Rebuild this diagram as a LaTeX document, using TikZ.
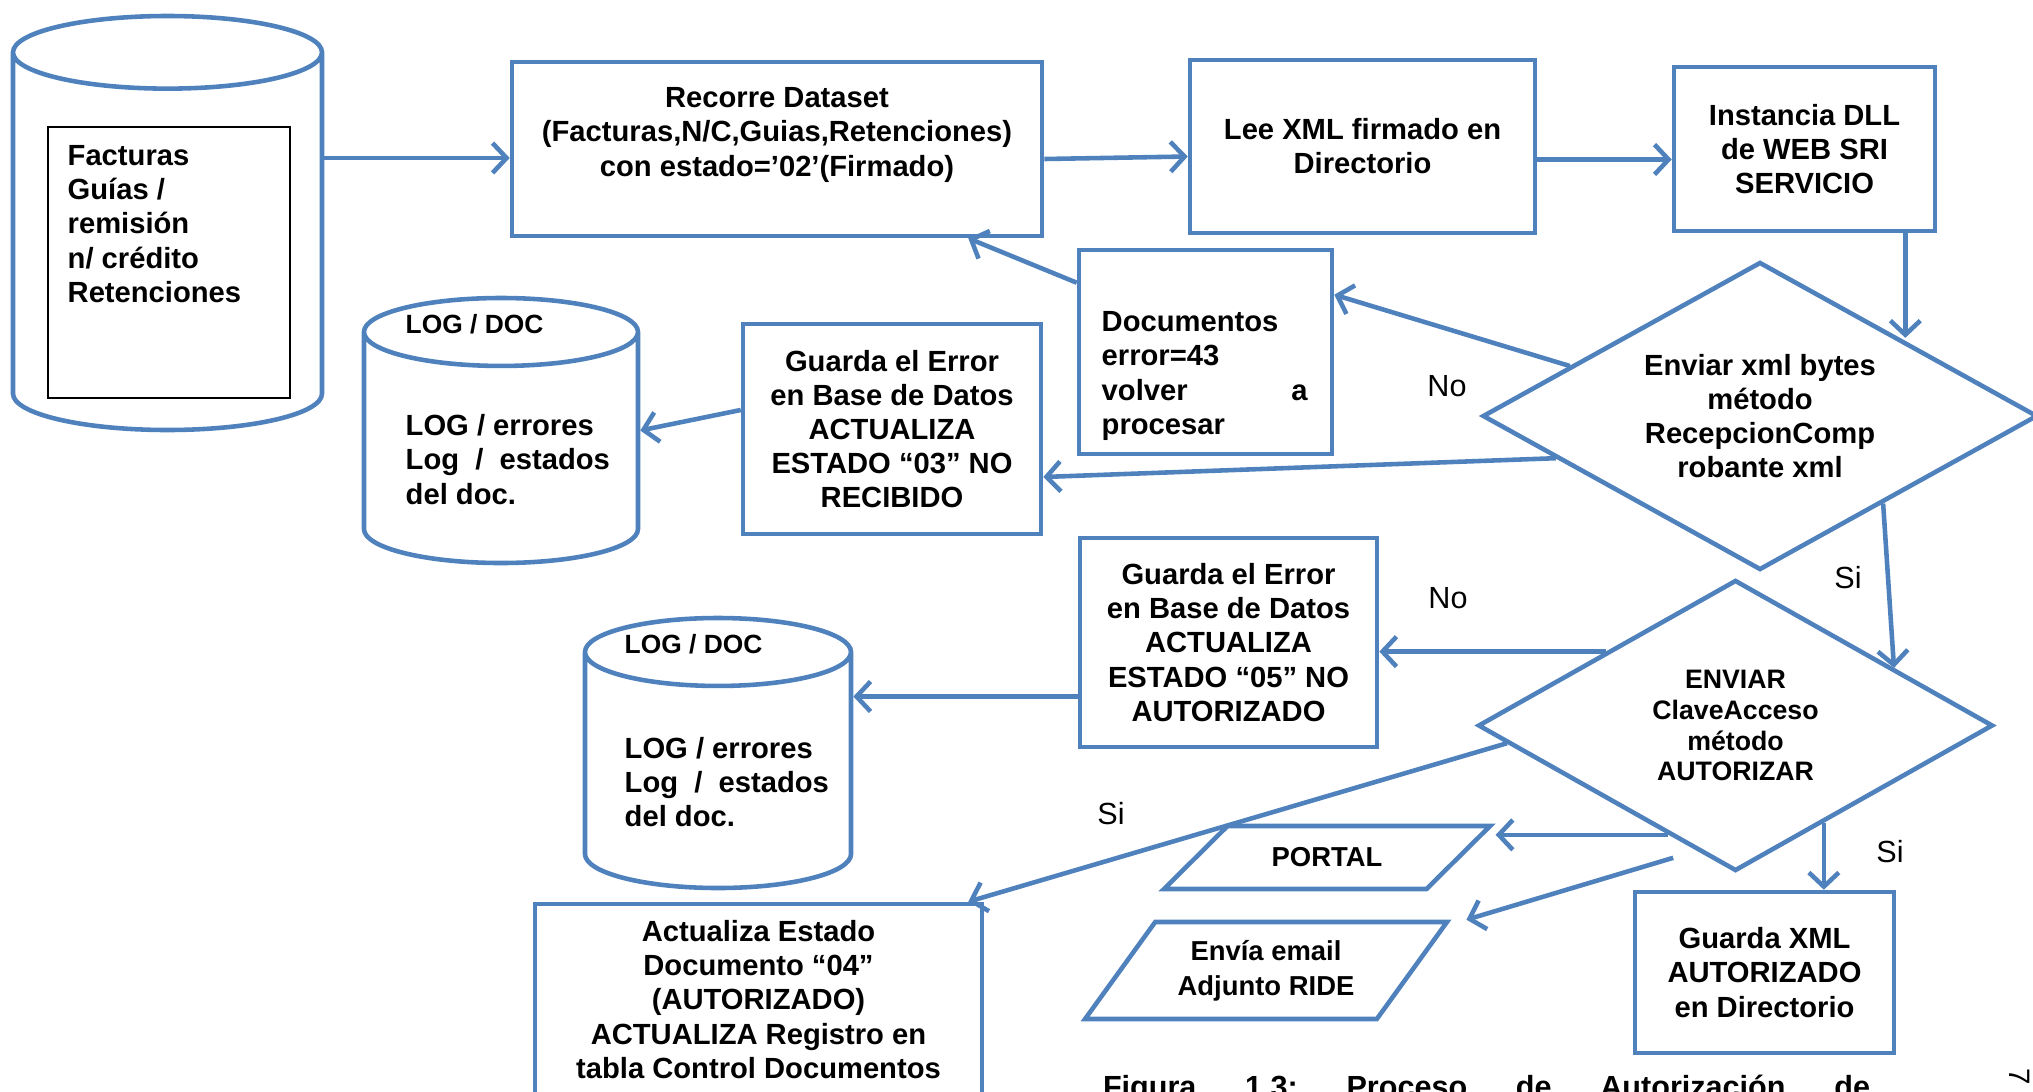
\documentclass[tikz,border=0pt]{standalone}
\usepackage{fontspec}
\setmainfont{Liberation Sans}
\usetikzlibrary{arrows.meta,positioning,shapes.geometric,calc}
\definecolor{azul}{RGB}{79,129,189}
\tikzset{
    %Define standard arrow tip
    >={Straight Barb[length=4pt,width=8.5pt]},
    %Define style for boxes
    caja/.style={
           rectangle,
           draw=azul, line width=1.3pt,
           align=center,
           font=\bfseries\fontsize{8.3}{9.7}\selectfont},
    rombo/.style={
           diamond,
           aspect=1.8,
           inner sep=0pt,
           draw=azul, line width=1.3pt,
           align=center,
           font=\bfseries\fontsize{8.3}{9.7}\selectfont},
    datos/.style={
           cylinder,
           shape border rotate=90,
           anchor=shape center,
           draw=azul, line width=1.3pt},
    entrada/.style={
           trapezium,
           trapezium stretches,
           draw=azul, line width=1.3pt,
           align=center,
           font=\bfseries\fontsize{7.8}{9.9}\selectfont},
    texto/.style={
           anchor=west,
           inner sep=0pt,
           align=left,
           font=\bfseries\fontsize{8.3}{9.7}\selectfont},
    % Define arrow style
    flecha/.style={
           ->,
           draw=azul, line width=1.3pt},
    etiqueta/.style={
           font=\fontsize{8.7}{10}\selectfont}
}
\begin{document}
\begin{tikzpicture}[node distance=1cm]
\useasboundingbox (0,0) rectangle (20.33,-10.91);
%base de documentos
\node[datos, minimum width=3.09cm, minimum height=4.14cm, aspect=3.1] (db) at (1.675,-2.23) {};
\node[draw, line width=0.4pt, minimum width=2.42cm, minimum height=2.71cm] (facbox) at (1.69,-2.625) {};
\node[texto, anchor=north west] (factxt) at (0.67,-1.45) {Facturas\\Guías /\\remisión\\n/ crédito\\Retenciones};
%fila de arriba
\node[caja, minimum width=5.30cm, minimum height=1.74cm] (rec) at (7.77,-1.49) {Recorre Dataset\\(Facturas,N/C,Guias,Retenciones)\\con estado=’02’(Firmado)\\\mbox{}};
\node[caja, minimum width=3.45cm, minimum height=1.73cm] (lee) at (13.625,-1.465) {Lee XML firmado en\\Directorio};
\node[caja, minimum width=2.61cm, minimum height=1.64cm] (inst) at (18.045,-1.49) {Instancia DLL\\de WEB SRI\\SERVICIO};
%primera decision
\node[rombo, minimum width=5.55cm, minimum height=3.08cm] (d1) at (17.6,-4.16) {Enviar xml bytes\\método\\RecepcionComp\\robante xml};
\node[caja, minimum width=2.53cm, minimum height=2.04cm] (doc) at (12.055,-3.52) {};
\node[texto, text width=2.06cm] (doct) at (11.01,-3.76) {Documentos\\error=43\\volver\hfill a\\procesar};
\node[caja, minimum width=2.98cm, minimum height=2.10cm] (g03) at (8.92,-4.29) {Guarda el Error\\en Base de Datos\\ACTUALIZA\\ESTADO “03” NO\\RECIBIDO};
\node[datos, minimum width=2.74cm, minimum height=2.65cm, aspect=2.9] (log1) at (5.01,-4.305) {};
\node[texto, font=\bfseries\fontsize{7.5}{9}\selectfont] (log1t) at (4.05,-3.24) {LOG / DOC};
\node[texto, below=1.355cm of log1t.west, anchor=west] (log1b) {LOG / errores\\Log~~/~~estados\\del doc.};
%segunda decision
\node[rombo, minimum width=5.15cm, minimum height=2.91cm, font=\bfseries\fontsize{7.6}{8.8}\selectfont] (d2) at (17.355,-7.255) {ENVIAR\\ClaveAcceso\\método\\AUTORIZAR};
\node[caja, minimum width=2.97cm, minimum height=2.09cm] (g05) at (12.285,-6.425) {Guarda el Error\\en Base de Datos\\ACTUALIZA\\ESTADO “05” NO\\AUTORIZADO};
\node[datos, minimum width=2.66cm, minimum height=2.70cm, aspect=2.9] (log2) at (7.18,-7.53) {};
\node[texto, font=\bfseries\fontsize{7.5}{9}\selectfont] (log2t) at (6.24,-6.44) {LOG / DOC};
\node[texto, below=1.38cm of log2t.west, anchor=west] (log2b) {LOG / errores\\Log~~/~~estados\\del doc.};
%salidas
\node[caja, minimum width=4.47cm, minimum height=1.91cm] (act) at (7.585,-9.995) {Actualiza Estado\\Documento “04”\\(AUTORIZADO)\\ACTUALIZA Registro en\\tabla Control Documentos};
\node[entrada, trapezium left angle=45, trapezium right angle=135, minimum width=3.28cm, minimum height=0.63cm] (portal) at (13.27,-8.575) {PORTAL};
\node[entrada, trapezium left angle=53, trapezium right angle=127, minimum width=3.64cm, minimum height=0.97cm] (envia) at (12.66,-9.705) {Envía email\\Adjunto RIDE};
\node[caja, minimum width=2.59cm, minimum height=1.61cm] (gxml) at (17.645,-9.725) {Guarda XML\\AUTORIZADO\\en Directorio};
%etiquetas
\node[etiqueta] (no1) at (14.47,-3.86) {No};
\node[etiqueta] (si1) at (18.48,-5.78) {Si};
\node[etiqueta] (no2) at (14.48,-5.98) {No};
\node[etiqueta] (si2) at (11.11,-8.14) {Si};
\node[etiqueta] (si3) at (18.90,-8.52) {Si};
\node[anchor=base, font=\bfseries\fontsize{8.7}{10}\selectfont] (cap) at (14.865,-10.97) {\frenchspacing\makebox[7.67cm][s]{Figura 1.3: Proceso de Autorización de}};
\node[rotate=-90, font=\fontsize{8.4}{10}\selectfont] (pag) at (20.2,-10.77) {7};
%puntos de salida en los rombos
\coordinate (d1a) at ($(d1.west)!0.32!(d1.north)$);
\coordinate (d1b) at ($(d1.west)!0.27!(d1.south)$);
\coordinate (d1c) at ($(d1.south)!0.44!(d1.east)$);
\coordinate (d2a) at ($(d2.west)!0.5!(d2.north)$);
\coordinate (d2b) at ($(d2.west)!0.12!(d2.south)$);
\coordinate (d2c) at ($(d2.west)!0.74!(d2.south)$);
\coordinate (d2d) at ($(d2.west)!0.76!(d2.south)+(0,-0.2)$);
\coordinate (d2e) at ($(d2.south)!0.34!(d2.east)$);
% flechas
\draw[flecha] ([yshift=-0.09cm]db.east |- rec.west) -- ([yshift=-0.09cm]rec.west);
\draw[flecha] ([yshift=-0.1cm]rec.east) -- ([yshift=-0.1cm]lee.west);
\draw[flecha] ([yshift=-0.13cm]lee.east) -- ([yshift=-0.13cm]lee.east -| inst.west);
\draw[flecha] ([xshift=-0.32cm]inst.south east) -- ([xshift=-0.32cm]inst.south east |- d1.north east);
\draw[flecha] ([yshift=-0.35cm]doc.north west) -- ([xshift=-0.76cm]rec.south east);
\draw[flecha] (d1a) -- ([yshift=-0.47cm]doc.north east);
\draw[flecha] (d1b) -- ([yshift=-0.48cm]g03.east);
\draw[flecha] ([yshift=0.19cm]g03.west) -- (log1.east |- log1.shape center);
\draw[flecha] (d1c) -- ($(d2.north)!0.61!(d2.east)$);
\draw[flecha] (d2a) -- (d2a -| g05.east);
\draw[flecha] ([yshift=-0.54cm]g05.west) -- ([yshift=-0.54cm]g05.west -| log2.east);
\draw[flecha] (d2b) -- ([xshift=-0.16cm]act.north east);
\draw[flecha] (d2c) -- (d2c -| portal.top right corner);
\draw[flecha] (d2d) -- ([xshift=0.15cm]envia.top right corner);
\draw[flecha] (d2e) -- (d2e |- gxml.north);
\end{tikzpicture}
\end{document}
